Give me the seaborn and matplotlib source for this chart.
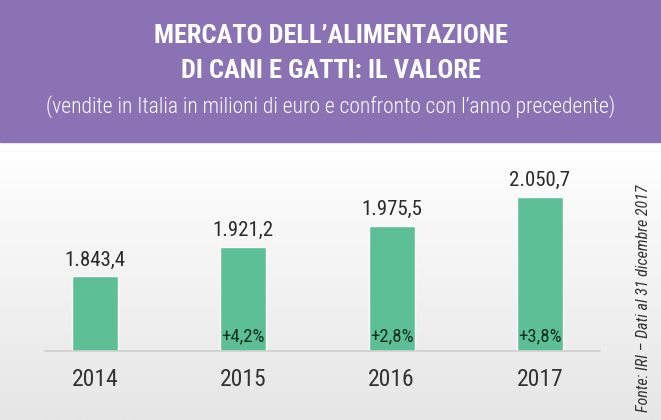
import numpy as np
import pandas as pd
import matplotlib
matplotlib.use("Agg")
import matplotlib.pyplot as plt
import seaborn as sns
from matplotlib.patches import Rectangle
from matplotlib.colors import LinearSegmentedColormap

# ------------------------------
# Data
# ------------------------------
anni = ["2014", "2015", "2016", "2017"]
valori = [1843.4, 1921.2, 1975.5, 2050.7]
etichette = ["1.843,4", "1.921,2", "1.975,5", "2.050,7"]
variazioni = ["", "+4,2%", "+2,8%", "+3,8%"]

df = pd.DataFrame({"anno": anni, "valore": valori})

# ------------------------------
# Style
# ------------------------------
sns.set_style("white")
plt.rcParams["font.family"] = ["Roboto Condensed", "DejaVu Sans"]

viola = "#8a72b5"
verde = "#5dbf95"

fig = plt.figure(figsize=(6.61, 4.2), dpi=100)
W, H = 661, 420

# header band
fig.patches.append(Rectangle((0, (H - 142) / H), 1, 142 / H,
                             transform=fig.transFigure, color=viola, zorder=0))

# gradient background of the chart area
bg = fig.add_axes([0, 0, 1, (H - 145) / H], zorder=0)
grad = np.linspace(0, 1, 256).reshape(-1, 1)
bg.imshow(grad, aspect="auto", origin="lower", extent=[0, 1, 0, 1],
          cmap=LinearSegmentedColormap.from_list("g", ["#e6e6e6", "#ffffff"]))
bg.axis("off")

fig.text(0.5, (H - 36) / H, "MERCATO DELL\u2019ALIMENTAZIONE", ha="center", va="center",
         color="white", fontsize=19, fontweight="bold")
fig.text(0.5, (H - 71) / H, "DI CANI E GATTI: IL VALORE", ha="center", va="center",
         color="white", fontsize=19, fontweight="bold")
fig.text(0.5, (H - 107) / H,
         "(vendite in Italia in milioni di euro e confronto con l\u2019anno precedente)",
         ha="center", va="center", color="white", fontsize=15.5, fontweight="light")

# ------------------------------
# Bars
# ------------------------------
ymin, ymax = 1648, 2148

ax = fig.add_axes([45 / W, 69 / H, 555 / W, 191 / H], zorder=1)
ax.patch.set_alpha(0)
sns.barplot(data=df, x="anno", y="valore", color=verde, width=0.31,
            saturation=1, ax=ax)
ax.set_xlim(-0.337, 3.405)
ax.set_ylim(ymin, ymax)

for i, (v, lab, var) in enumerate(zip(valori, etichette, variazioni)):
    ax.annotate(lab, (i, v), xytext=(0, 5), textcoords="offset points",
                ha="center", va="bottom", fontsize=15, color="#2a2a2a",
                annotation_clip=False)
    if var:
        ax.annotate(var, (i, ymin), xytext=(0, 4), textcoords="offset points",
                    ha="center", va="bottom", fontsize=13.5, color="#13301f")

ax.set_xlabel("")
ax.set_ylabel("")
ax.set_yticks([])
ax.tick_params(axis="x", length=0, pad=12, labelsize=17, labelcolor="#333333")
for s in ["top", "right", "left"]:
    ax.spines[s].set_visible(False)
ax.spines["bottom"].set_color("#cfcfcf")
ax.spines["bottom"].set_linewidth(1.2)

fig.text(643 / W, (H - 298) / H, "Fonte: IRI \u2013 Dati al 31 dicembre 2017",
         rotation=90, ha="center", va="center", fontsize=11.5, style="italic",
         color="#333333")

fig.savefig("out.png", dpi=100)
